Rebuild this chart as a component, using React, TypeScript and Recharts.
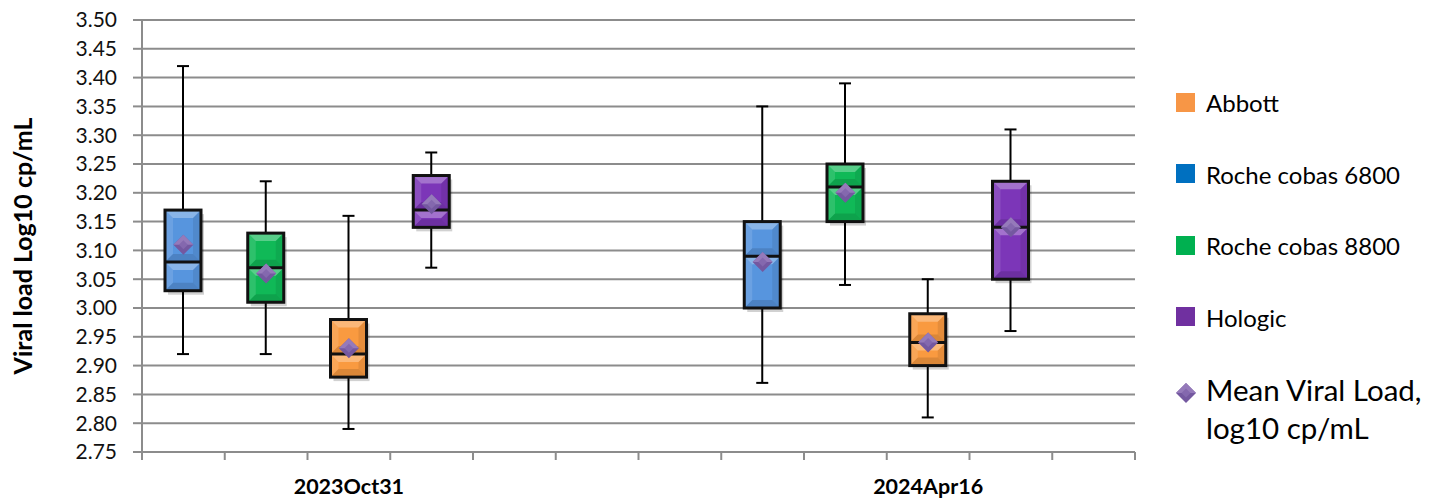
import React from 'react';
import { ComposedChart, Bar, Scatter, XAxis, YAxis, CartesianGrid, Label } from 'recharts';

// ---- data ----
const groupLabels = ['2023Oct31', '2024Apr16'];
const groupLabelSlots = [2.5, 9.5];
const slotCount = 12;
const boxSlots = [0, 1, 2, 3, 7, 8, 9, 10];
const boxInstruments = [
  'Roche cobas 6800', 'Roche cobas 8800', 'Abbott', 'Hologic',
  'Roche cobas 6800', 'Roche cobas 8800', 'Abbott', 'Hologic',
];
const minVals = [2.92, 2.92, 2.79, 3.07, 2.87, 3.04, 2.81, 2.96];
const q1Vals = [3.03, 3.01, 2.88, 3.14, 3.0, 3.15, 2.9, 3.05];
const medianVals = [3.08, 3.07, 2.92, 3.17, 3.09, 3.21, 2.94, 3.14];
const q3Vals = [3.17, 3.13, 2.98, 3.23, 3.15, 3.25, 2.99, 3.22];
const maxVals = [3.42, 3.22, 3.16, 3.27, 3.35, 3.39, 3.05, 3.31];
const meanVals = [3.11, 3.06, 2.93, 3.18, 3.08, 3.2, 2.94, 3.14];

const legendItems = ['Abbott', 'Roche cobas 6800', 'Roche cobas 8800', 'Hologic'];
const legendColors = ['#F79646', '#0070C0', '#00B050', '#7030A0'];
const meanLabel = ['Mean Viral Load,', 'log10 cp/mL'];
const boxColors: Record<string, string> = {
  'Abbott': '#F99A40',
  'Roche cobas 6800': '#5795DE',
  'Roche cobas 8800': '#10B957',
  'Hologic': '#7C36B8',
};
const yTicks = Array.from({ length: 16 }, (_, i) => +(2.75 + i * 0.05).toFixed(2));
const xTicks = [...Array.from({ length: slotCount + 1 }, (_, i) => i), ...groupLabelSlots];

const data = boxSlots.map((s, i) => ({
  pos: s + 0.5,
  instrument: boxInstruments[i],
  range: [minVals[i], maxVals[i]],
  q1: q1Vals[i],
  median: medianVals[i],
  q3: q3Vals[i],
  mean: meanVals[i],
}));

const FONT = 'Lato, "Open Sans", sans-serif';
const GRID = '#8C8C8C';

function Segment({ x, y0, y1, w, color }: any) {
  const h = y1 - y0;
  const b = Math.min(8, h / 2);
  return (
    <g>
      <rect x={x} y={y0} width={w} height={h} fill={color} />
      <polygon points={`${x},${y0} ${x + w},${y0} ${x + w - b},${y0 + b} ${x + b},${y0 + b}`} fill="#fff" fillOpacity={0.3} />
      <polygon points={`${x},${y1} ${x + w},${y1} ${x + w - b},${y1 - b} ${x + b},${y1 - b}`} fill="#000" fillOpacity={0.12} />
      <polygon points={`${x},${y0} ${x + b},${y0 + b} ${x + b},${y1 - b} ${x},${y1}`} fill="#fff" fillOpacity={0.12} />
      <polygon points={`${x + w},${y0} ${x + w - b},${y0 + b} ${x + w - b},${y1 - b} ${x + w},${y1}`} fill="#000" fillOpacity={0.08} />
    </g>
  );
}

function BoxShape(props: any) {
  const { x, y, width, height, payload } = props;
  if (!payload) return null;
  const [lo, hi] = payload.range;
  const top = Math.min(y, y + height);
  const h = Math.abs(height);
  const py = (v: number) => top + (h * (hi - v)) / (hi - lo);
  const cx = x + width / 2;
  const color = boxColors[payload.instrument];
  const capW = 12;
  const yMax = py(hi), yQ3 = py(payload.q3), yMed = py(payload.median), yQ1 = py(payload.q1), yMin = py(lo);
  return (
    <g>
      <line x1={cx} x2={cx} y1={yMax} y2={yQ3} stroke="#000" strokeWidth={2} />
      <line x1={cx} x2={cx} y1={yQ1} y2={yMin} stroke="#000" strokeWidth={2} />
      <line x1={cx - capW / 2} x2={cx + capW / 2} y1={yMax} y2={yMax} stroke="#000" strokeWidth={2} />
      <line x1={cx - capW / 2} x2={cx + capW / 2} y1={yMin} y2={yMin} stroke="#000" strokeWidth={2} />
      <rect x={x + 3} y={yQ3 + 4} width={width} height={yQ1 - yQ3} fill="#000" fillOpacity={0.18} />
      <Segment x={x} y0={yQ3} y1={yMed} w={width} color={color} />
      <Segment x={x} y0={yMed} y1={yQ1} w={width} color={color} />
      <rect x={x} y={yQ3} width={width} height={yQ1 - yQ3} fill="none" stroke="#111" strokeWidth={3} />
      <line x1={x} x2={x + width} y1={yMed} y2={yMed} stroke="#111" strokeWidth={3} />
    </g>
  );
}

function Diamond({ cx, cy, r = 10 }: any) {
  if (cx == null || cy == null) return null;
  return (
    <g>
      <polygon points={`${cx - r},${cy} ${cx},${cy - r} ${cx + r},${cy} ${cx},${cy + r}`} fill="#7458A0" />
      <polygon points={`${cx - r},${cy} ${cx},${cy - r} ${cx + r},${cy}`} fill="#957ABA" />
      <polygon points={`${cx - r * 0.45},${cy} ${cx},${cy - r * 0.45} ${cx + r * 0.45},${cy} ${cx},${cy + r * 0.45}`} fill="#8468AE" />
    </g>
  );
}

function XTick(props: any) {
  const { x, y, payload } = props;
  const v = payload.value;
  if (Number.isInteger(v)) {
    return <line x1={x} x2={x} y1={y} y2={y + 8} stroke={GRID} strokeWidth={2} />;
  }
  const idx = groupLabelSlots.indexOf(v);
  return (
    <text x={x} y={y + 42} textAnchor="middle" fontFamily={FONT} fontWeight="bold" fontSize={21.5} fill="#000">
      {groupLabels[idx]}
    </text>
  );
}

function YLabel(props: any) {
  const { viewBox } = props;
  const cy = viewBox.y + viewBox.height / 2 + 10;
  const cx = 22;
  return (
    <text x={cx} y={cy} transform={`rotate(-90 ${cx} ${cy})`} textAnchor="middle" dominantBaseline="central"
      fontFamily={FONT} fontWeight="bold" fontSize={25} fill="#000">
      Viral load Log10 cp/mL
    </text>
  );
}

function ChartLegend() {
  return (
    <div style={{ position: 'absolute', left: 1176, top: 67, width: 261, fontFamily: FONT, color: '#000' }}>
      {legendItems.map((name, i) => (
        <div key={name} style={{ display: 'flex', alignItems: 'center', height: 71.5 }}>
          <svg width={30} height={20} style={{ flex: 'none' }}>
            <rect x={0} y={0} width={19} height={19} fill={legendColors[i]} />
          </svg>
          <span style={{ fontSize: 24, whiteSpace: 'nowrap' }}>{name}</span>
        </div>
      ))}
      <div style={{ display: 'flex', alignItems: 'flex-start', marginTop: 18 }}>
        <svg width={30} height={30} style={{ marginTop: 9, flex: 'none' }}>
          <Diamond cx={10} cy={13} r={10} />
        </svg>
        <div style={{ fontSize: 29.5, lineHeight: '38px', whiteSpace: 'nowrap' }}>
          {meanLabel.map((l) => <div key={l}>{l}</div>)}
        </div>
      </div>
    </div>
  );
}

export default function App() {
  return (
    <div style={{ position: 'absolute', left: 0, top: 0, width: 1437, height: 500, background: '#fff' }}>
      <ComposedChart width={1437} height={500} data={data} margin={{ top: 20, right: 302, left: 0, bottom: 0 }}>
        <CartesianGrid horizontal vertical={false} stroke={GRID} strokeWidth={2} strokeOpacity={1} />
        <XAxis
          dataKey="pos"
          type="number"
          domain={[0, slotCount]}
          ticks={xTicks}
          interval={0}
          height={48}
          axisLine={{ stroke: GRID, strokeWidth: 2 }}
          tickLine={false}
          tickSize={0}
          tickMargin={0}
          tick={<XTick />}
        />
        <YAxis
          type="number"
          domain={[2.75, 3.5]}
          ticks={yTicks}
          interval={0}
          width={142}
          axisLine={{ stroke: GRID, strokeWidth: 2 }}
          tickLine={{ stroke: GRID, strokeWidth: 2 }}
          tickSize={9}
          tickMargin={16}
          tickFormatter={(v: number) => v.toFixed(2)}
          tick={{ fontFamily: FONT, fontSize: 21, fill: '#111' }}
        >
          <Label content={<YLabel />} />
        </YAxis>
        <Bar dataKey="range" barSize={36} shape={<BoxShape />} isAnimationActive={false} />
        <Scatter dataKey="mean" shape={<Diamond />} isAnimationActive={false} />
      </ComposedChart>
      <ChartLegend />
    </div>
  );
}
